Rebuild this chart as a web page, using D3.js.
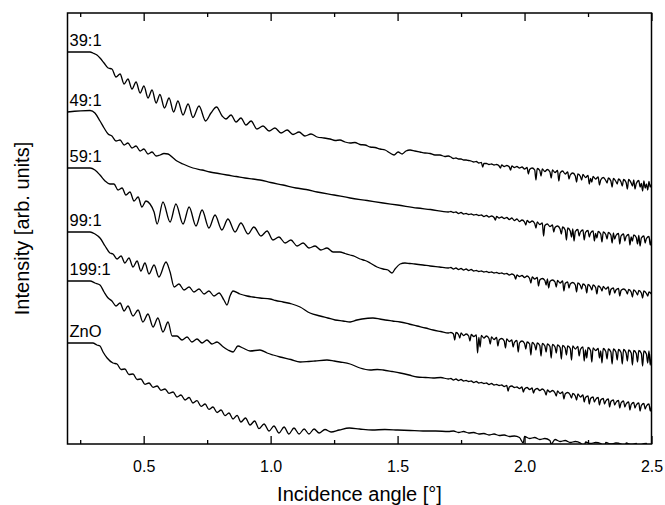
<!DOCTYPE html>
<html>
<head>
<meta charset="utf-8">
<script src="https://d3js.org/d3.v7.min.js"></script>
<style>
  body { margin: 0; background: #fff; }
  text { font-family: "Liberation Sans", Arial, sans-serif; fill: #000; }
</style>
</head>
<body>
<div id="chart"></div>
<script>
(function(){

  var width = 665, height = 505;
  var margin = {left: 67.5, right: 13.5, top: 13, bottom: 61};

  // sample names, top to bottom
  var labels = ["39:1", "49:1", "59:1", "99:1", "199:1", "ZnO"];

  var majorTicks = [0.5, 1.0, 1.5, 2.0, 2.5];
  var minorTicks = [0.25, 0.75, 1.25, 1.75, 2.25];

  // [angle (deg), log intensity + offset (arb.)]
  var head39 = [[0.20,392],[0.289,392],[0.300,391],[0.316,389],[0.328,386],[0.344,381],[0.360,376],
    [0.375,375],[0.391,367],[0.407,370],[0.423,360],[0.438,365],[0.454,355],[0.470,362],[0.486,351],
    [0.501,358],[0.517,346],[0.533,354],[0.549,341],[0.564,349.5],[0.582,336],[0.600,346],[0.618,332],
    [0.635,343],[0.655,329],[0.675,340],[0.694,326.5],[0.718,338],[0.744,323],[0.765,331],[0.787,337],
    [0.809,328],[0.824,325],[0.844,329],[0.864,322],[0.883,326],[0.903,319],[0.923,323],[0.946,315],
    [0.970,318],[0.994,313],[1.017,316],[1.041,311],[1.065,314],[1.088,309.5],[1.112,312],[1.135,308],
    [1.159,310],[1.183,307],[1.210,306],[1.234,305],[1.254,303.5],[1.273,304],[1.293,302],[1.313,301],
    [1.332,301.5],[1.352,299.5],[1.372,299],[1.392,297],[1.411,296.5],[1.431,295],[1.451,294],[1.470,291],
    [1.486,289],[1.502,292],[1.518,290],[1.533,293],[1.549,294],[1.568,293],[1.588,292],[1.608,291],
    [1.628,290.5],[1.647,289],[1.667,289],[1.686,287.5],[1.700,288]];
  var tail39 = [[1.71,287],[1.72,285.5],[1.73,286],[1.74,285],[1.75,285],[1.76,284],[1.77,284],
    [1.78,283.5],[1.79,283],[1.80,282],[1.81,282.5],[1.82,281],[1.83,281.5],[1.84,280.5],[1.85,280.5],
    [1.86,279.5],[1.87,280],[1.88,279],[1.89,279.5],[1.90,278],[1.91,279],[1.92,277.5],[1.93,278.5],
    [1.94,277],[1.95,278],[1.96,276.5],[1.97,277.5],[1.98,276],[1.99,277],[2.00,275],[2.01,276.5],
    [2.02,274.5],[2.03,276],[2.04,274],[2.05,275.5],[2.06,273.5],[2.07,275],[2.08,272.5],[2.09,274.5],
    [2.10,272],[2.11,274],[2.12,271.5],[2.13,273.5],[2.14,271],[2.15,273],[2.16,270],[2.17,272],
    [2.18,269],[2.19,271],[2.20,268],[2.21,270],[2.22,267.5],[2.23,269.5],[2.24,266.5],[2.25,268.5],
    [2.26,265.5],[2.27,267.5],[2.28,265],[2.29,267],[2.30,264],[2.31,266.5],[2.32,263.5],[2.33,266],
    [2.34,263],[2.35,265.5],[2.36,262.5],[2.37,265],[2.38,262],[2.39,264.5],[2.40,261.5],[2.41,264.5],
    [2.42,261],[2.43,264],[2.44,260.5],[2.45,263.5],[2.46,260.5],[2.47,263],[2.48,260],[2.49,262.5],[2.50,260]];
  var spikes39 = [[1.835,277],[1.905,276],[1.945,274],[2.015,270],[2.045,264],[2.065,268],[2.105,266],
    [2.135,263],[2.175,265],[2.205,262],[2.225,264],[2.255,260],[2.265,262],[2.295,259],[2.325,261],
    [2.345,257],[2.365,260],[2.385,258],[2.405,255],[2.425,258],[2.435,255],[2.455,257],[2.465,253],
    [2.475,256],[2.485,254],[2.495,257]];

  var head49 = [[0.20,332],[0.289,333.5],[0.308,331],[0.328,323],[0.344,316],[0.360,310],
    [0.375,308],[0.391,303],[0.407,304],[0.423,299],[0.438,301],[0.454,296],[0.470,298],[0.486,293],
    [0.501,295],[0.517,290],[0.533,292],[0.549,288],[0.564,289],[0.580,290.5],[0.596,290],[0.612,287],
    [0.631,283],[0.655,280],[0.694,276],[0.730,274],[0.761,272],[0.795,270.5],[0.828,269],[0.865,267.5],
    [0.899,266],[0.930,265],[0.958,264],[1.000,261.5],[1.049,259],[1.100,256],[1.140,254.5],[1.183,252],
    [1.250,249],[1.313,246],[1.380,243.5],[1.443,241],[1.500,239],[1.577,236],[1.630,234.5],[1.700,232]];
  var tail49 = [[1.71,232.5],[1.72,231.5],[1.73,232],[1.74,230.5],[1.75,231.5],[1.76,230],[1.77,230.5],
    [1.78,229.5],[1.79,230],[1.80,229],[1.81,229.5],[1.82,228.5],[1.83,229],[1.84,227.5],[1.85,228.5],
    [1.86,227],[1.87,228],[1.88,226.5],[1.89,227.5],[1.90,226],[1.91,227],[1.92,225.5],[1.93,226.5],
    [1.94,224.5],[1.95,226],[1.96,223.5],[1.97,225],[1.98,222.5],[1.99,224],[2.00,222],[2.01,223.5],
    [2.02,221.5],[2.03,223],[2.04,220.5],[2.05,222],[2.06,219.5],[2.07,221],[2.08,218.5],[2.09,220],
    [2.10,217.5],[2.11,219],[2.12,216.5],[2.13,218],[2.14,215],[2.15,217],[2.16,214],[2.17,216],
    [2.18,213],[2.19,215],[2.20,212.5],[2.21,214.5],[2.22,212],[2.23,214],[2.24,211.5],[2.25,213.5],
    [2.26,211],[2.27,213],[2.28,210.5],[2.29,212.5],[2.30,210],[2.31,212],[2.32,209.5],[2.33,211.5],
    [2.34,209],[2.35,211],[2.36,208.5],[2.37,210.5],[2.38,208],[2.39,210],[2.40,207.5],[2.41,209.5],
    [2.42,207],[2.43,209],[2.44,206.5],[2.45,208.5],[2.46,206],[2.47,208],[2.48,205.5],[2.49,207.5],[2.50,205.5]];
  var spikes49 = [[1.885,224],[2.005,219],[2.045,216],[2.075,208],[2.115,212],[2.145,210],[2.165,204],
    [2.185,207],[2.195,203],[2.215,208],[2.235,204],[2.255,207],[2.275,203],[2.285,206],[2.305,202],
    [2.325,205],[2.345,201],[2.355,205],[2.375,200],[2.395,203],[2.415,199],[2.425,203],[2.445,200],
    [2.455,198],[2.475,201],[2.495,199]];

  var head59 = [[0.20,276],[0.289,276],[0.308,274],[0.328,269],[0.348,263],[0.367,260],
    [0.383,260],[0.399,254],[0.415,256],[0.430,249],[0.446,252],[0.462,243],[0.478,247],[0.493,237],
    [0.509,243],[0.525,240],[0.541,232],[0.553,220],[0.576,242],[0.604,222],[0.627,240],[0.655,220],
    [0.679,237],[0.706,218],[0.730,234],[0.757,216],[0.781,229],[0.808,214],[0.832,225],[0.860,212],
    [0.883,221],[0.911,210],[0.934,217],[0.962,208],[0.986,213],[1.009,204],[1.033,207],[1.057,201],
    [1.080,204],[1.104,198],[1.128,201],[1.151,196],[1.175,198],[1.198,194],[1.222,196],[1.246,192],
    [1.273,192],[1.293,190.5],[1.313,189],[1.332,187.5],[1.352,185],[1.372,183.5],[1.392,181],[1.419,177],
    [1.443,175],[1.462,174],[1.478,171],[1.490,175],[1.510,180],[1.529,181],[1.548,180.5],[1.568,180],
    [1.600,179],[1.628,178],[1.665,177],[1.700,176]];
  var tail59 = [[1.71,176.5],[1.72,175],[1.73,176],[1.74,174.5],[1.75,175.5],[1.76,174],[1.77,175],
    [1.78,173.5],[1.79,174.5],[1.80,173],[1.81,173.5],[1.82,172.5],[1.83,173],[1.84,172],[1.85,172.5],
    [1.86,171.5],[1.87,172],[1.88,171],[1.89,171.5],[1.90,170.5],[1.91,171],[1.92,170],[1.93,170.5],
    [1.94,169],[1.95,170],[1.96,168.5],[1.97,169],[1.98,167.5],[1.99,168.5],[2.00,166.5],[2.01,168],
    [2.02,165.5],[2.03,167],[2.04,165],[2.05,166.5],[2.06,164],[2.07,165.5],[2.08,163.5],[2.09,165],
    [2.10,162.5],[2.11,164],[2.12,162],[2.13,163.5],[2.14,161],[2.15,163],[2.16,160.5],[2.17,162],
    [2.18,160],[2.19,161.5],[2.20,159],[2.21,161],[2.22,158.5],[2.23,160],[2.24,158],[2.25,159.5],
    [2.26,157],[2.27,159],[2.28,156.5],[2.29,158],[2.30,156],[2.31,157.5],[2.32,155],[2.33,157],
    [2.34,154.5],[2.35,156],[2.36,154],[2.37,155.5],[2.38,153.5],[2.39,155],[2.40,153],[2.41,154.5],
    [2.42,152],[2.43,154],[2.44,151.5],[2.45,153.5],[2.46,151],[2.47,153],[2.48,150.5],[2.49,152],[2.50,150]];
  var spikes59 = [[1.965,165],[2.025,161],[2.055,158],[2.085,159],[2.095,156],[2.125,157],[2.155,153],
    [2.175,156],[2.205,152],[2.225,155],[2.245,151],[2.265,154],[2.285,150],[2.305,153],[2.335,149],
    [2.355,151],[2.375,148],[2.405,150],[2.425,147],[2.445,149],[2.465,146],[2.485,148]];

  var head99 = [[0.20,212],[0.289,212],[0.308,210],[0.328,206],[0.348,198],[0.367,191],
    [0.379,190],[0.395,185],[0.411,188],[0.426,181],[0.442,186],[0.458,177],[0.474,183],[0.489,173],
    [0.505,181],[0.521,170],[0.541,179],[0.560,167],[0.588,182],[0.604,172],[0.620,157],[0.639,160],
    [0.659,154],[0.679,157],[0.698,152],[0.718,155],[0.738,150],[0.757,153],[0.777,148],[0.797,151],
    [0.816,144],[0.828,139],[0.840,148],[0.852,153],[0.879,150],[0.907,148],[0.930,147],[0.958,146],
    [0.998,145],[1.020,143.5],[1.049,142],[1.084,140],[1.116,137],[1.155,131],[1.195,128],[1.225,126],
    [1.254,124],[1.285,123],[1.313,122],[1.340,124],[1.360,125],[1.403,126],[1.430,125],[1.451,124],
    [1.480,123],[1.510,122],[1.545,120],[1.577,118],[1.610,116],[1.640,114],[1.670,112.5],[1.700,111]];
  var tail99 = [[1.71,111.5],[1.72,110],[1.73,111.5],[1.74,109.5],[1.75,111],[1.76,108.5],[1.77,110],
    [1.78,108],[1.79,109.5],[1.80,107.5],[1.81,109],[1.82,106.5],[1.83,108.5],[1.84,106],[1.85,108],
    [1.86,105.5],[1.87,107],[1.88,104.5],[1.89,106.5],[1.90,104],[1.91,105.5],[1.92,103],[1.93,105],
    [1.94,102.5],[1.95,104],[1.96,101.5],[1.97,103.5],[1.98,101],[1.99,103],[2.00,100.5],[2.01,102],
    [2.02,100],[2.03,101.5],[2.04,99],[2.05,101],[2.06,98.5],[2.07,100.5],[2.08,98],[2.09,100],
    [2.10,97.5],[2.11,99.5],[2.12,97],[2.13,99],[2.14,96.5],[2.15,98.5],[2.16,96],[2.17,98],
    [2.18,95.5],[2.19,98],[2.20,95],[2.21,97.5],[2.22,94.5],[2.23,97],[2.24,94],[2.25,96.5],
    [2.26,93.5],[2.27,96],[2.28,93.5],[2.29,95.5],[2.30,93],[2.31,95.5],[2.32,92.5],[2.33,95],
    [2.34,92],[2.35,95],[2.36,92],[2.37,94.5],[2.38,91.5],[2.39,94.5],[2.40,91],[2.41,94],
    [2.42,91],[2.43,93.5],[2.44,90.5],[2.45,93.5],[2.46,90.5],[2.47,93],[2.48,90],[2.49,93],[2.50,90]];
  var spikes99 = [[1.725,104],[1.745,106],[1.785,103],[1.815,91],[1.825,97],[1.865,100],[1.895,98],
    [1.925,96],[1.955,97],[1.975,92],[2.005,95],[2.025,89],[2.045,94],[2.065,88],[2.085,92],[2.105,86],
    [2.125,91],[2.145,85],[2.165,89],[2.185,84],[2.215,88],[2.235,83],[2.245,86],[2.265,82],[2.295,86],
    [2.305,81],[2.325,85],[2.345,80],[2.365,84],[2.385,80],[2.405,83],[2.425,79],[2.445,82],[2.465,78],
    [2.485,81],[2.495,79]];

  var head199 = [[0.20,163],[0.289,163],[0.308,161],[0.328,159],[0.344,152],[0.360,146],
    [0.375,143],[0.391,138],[0.407,141],[0.423,133],[0.438,138],[0.458,128],[0.478,134],[0.497,122],
    [0.517,130],[0.537,117],[0.556,126],[0.576,112],[0.596,122],[0.612,108],[0.631,108],[0.651,104],
    [0.671,107],[0.690,102],[0.710,105],[0.730,101],[0.749,104],[0.769,100],[0.789,102],[0.809,98],
    [0.832,94],[0.852,92],[0.871,98],[0.891,96],[0.919,93],[0.958,94],[0.986,91],[1.010,89],[1.037,87],
    [1.080,84.5],[1.116,82],[1.150,82.5],[1.175,83],[1.222,84],[1.250,83],[1.273,82],[1.313,80],
    [1.352,76],[1.392,74],[1.420,74.5],[1.443,74],[1.478,72.5],[1.510,71],[1.545,69],[1.577,67],
    [1.610,66.5],[1.640,66],[1.670,66.5],[1.700,65]];
  var tail199 = [[1.71,65.5],[1.72,64],[1.73,65],[1.74,63.5],[1.75,64.5],[1.76,63],[1.77,63.5],
    [1.78,62.5],[1.79,63],[1.80,61.5],[1.81,62.5],[1.82,61],[1.83,61.5],[1.84,60.5],[1.85,61],
    [1.86,59.5],[1.87,60.5],[1.88,59],[1.89,59.5],[1.90,58.5],[1.91,59],[1.92,57.5],[1.93,58.5],
    [1.94,57],[1.95,58],[1.96,56.5],[1.97,57],[1.98,55.5],[1.99,57],[2.00,55],[2.01,56.5],
    [2.02,54.5],[2.03,56],[2.04,54],[2.05,55.5],[2.06,53.5],[2.07,55],[2.08,52.5],[2.09,54],
    [2.10,52],[2.11,53.5],[2.12,51],[2.13,53],[2.14,50.5],[2.15,52],[2.16,50],[2.17,51.5],
    [2.18,49],[2.19,50.5],[2.20,48],[2.21,50],[2.22,47],[2.23,49],[2.24,46.5],[2.25,48],
    [2.26,45.5],[2.27,47],[2.28,44.5],[2.29,46.5],[2.30,44],[2.31,45.5],[2.32,43],[2.33,45],
    [2.34,42.5],[2.35,44],[2.36,41.5],[2.37,43.5],[2.38,41],[2.39,43],[2.40,40],[2.41,42],
    [2.42,39.5],[2.43,41.5],[2.44,39],[2.45,41],[2.46,38.5],[2.47,40.5],[2.48,38],[2.49,40],[2.50,38]];
  var spikes199 = [[1.935,53],[1.995,52],[2.035,51],[2.085,49],[2.125,48],[2.155,45],[2.185,46],
    [2.205,44],[2.235,42],[2.255,40],[2.275,42],[2.295,39],[2.315,40],[2.335,37],[2.355,39],[2.375,36],
    [2.395,37],[2.415,34],[2.435,36],[2.455,33],[2.475,35],[2.495,33]];

  var headZnO = [[0.20,101],[0.300,101],[0.316,99],[0.328,98],[0.340,92],[0.356,86],[0.379,81],
    [0.395,80],[0.411,74.5],[0.426,75],[0.442,69.5],[0.458,70],[0.474,64.5],[0.489,65],[0.505,59.7],
    [0.521,61],[0.537,56.7],[0.553,58],[0.568,53.7],[0.584,55],[0.600,50.6],[0.616,52],[0.631,47],
    [0.647,49],[0.663,44],[0.679,46.5],[0.694,41],[0.710,43.3],[0.726,37.7],[0.742,40],[0.757,34.6],
    [0.773,37],[0.789,31.5],[0.805,34],[0.820,28.3],[0.836,31],[0.852,25],[0.868,28.6],[0.883,22],
    [0.901,26],[0.919,19],[0.937,23],[0.954,15.4],[0.974,20],[0.994,13],[1.013,18],[1.033,11],
    [1.053,17],[1.072,10],[1.092,16],[1.112,10],[1.132,15],[1.151,10],[1.171,15],[1.191,11],
    [1.214,14.5],[1.238,12],[1.270,14],[1.310,16],[1.350,15],[1.400,14],[1.450,14.5],[1.500,14],
    [1.550,13.5],[1.600,13],[1.650,13],[1.700,12.5]];
  var tailZnO = [[1.72,13],[1.74,11.5],[1.76,12.5],[1.78,11],[1.80,11.5],[1.82,10],[1.84,10.5],
    [1.86,9],[1.88,10],[1.90,8.5],[1.92,9],[1.94,7.5],[1.96,8],[1.98,6.5],[2.00,7.5],[2.02,5.5],
    [2.04,6.5],[2.06,4.5],[2.08,5.5],[2.10,3.5],[2.12,4.5],[2.14,2.5],[2.16,3.5],[2.18,1.5],[2.20,2.5],
    [2.22,1],[2.24,2],[2.26,0.5],[2.28,1.5],[2.30,0.5],[2.32,1.5],[2.34,0],[2.36,1],[2.38,0],
    [2.40,1],[2.42,-0.5],[2.44,0.5],[2.46,-0.5],[2.48,0.5],[2.50,-0.5]];
  var spikesZnO = [[1.995,1],[2.105,0],[2.235,-3],[2.315,-3],[2.395,-4],[2.445,-3],[2.485,-5]];

  var series = [
    merge(head39, tail39, spikes39),
    merge(head49, tail49, spikes49),
    merge(head59, tail59, spikes59),
    merge(head99, tail99, spikes99),
    merge(head199, tail199, spikes199),
    merge(headZnO, tailZnO, spikesZnO)
  ];

  function merge(head, tail, spikes){
    return head.concat(tail, spikes).sort(function(a, b){ return a[0] - b[0]; });
  }

  var x = d3.scaleLinear()
      .domain([0.2, 2.5])
      .range([margin.left, width - margin.right]);

  var y = d3.scaleLinear()
      .domain([0, 431])
      .range([height - margin.bottom, margin.top]);

  var svg = d3.select("#chart").append("svg")
      .attr("width", width)
      .attr("height", height);

  svg.append("rect")
      .attr("width", width)
      .attr("height", height)
      .attr("fill", "#fff");

  svg.append("clipPath")
      .attr("id", "plot-clip")
    .append("rect")
      .attr("x", x(0.2))
      .attr("y", y(431))
      .attr("width", x(2.5) - x(0.2))
      .attr("height", y(0) - y(431));

  drawCurves();
  drawAxes();
  drawLabels();

  function drawCurves(){

    var line = d3.line()
        .curve(d3.curveMonotoneX)
        .x(function(d){ return x(d[0]); })
        .y(function(d){ return y(d[1]); });

    svg.append("g")
        .attr("clip-path", "url(#plot-clip)")
      .selectAll("path")
        .data(series)
      .enter().append("path")
        .attr("d", line)
        .attr("fill", "none")
        .attr("stroke", "#000")
        .attr("stroke-width", 1.3)
        .attr("stroke-linejoin", "round");

  }

  function drawAxes(){

    var bottom = svg.append("g")
        .attr("transform", "translate(0," + y(0) + ")")
        .call(d3.axisBottom(x)
          .tickValues(majorTicks)
          .tickSizeInner(-8)
          .tickSizeOuter(0)
          .tickPadding(17)
          .tickFormat(d3.format(".1f")));

    bottom.selectAll("text")
        .attr("font-family", "'Liberation Sans', Arial, sans-serif")
        .attr("font-size", 16);

    svg.append("g")
        .attr("transform", "translate(0," + y(0) + ")")
        .call(d3.axisBottom(x).tickValues(minorTicks).tickSizeInner(-4).tickSizeOuter(0).tickFormat(""));

    svg.append("g")
        .attr("transform", "translate(0," + y(431) + ")")
        .call(d3.axisTop(x).tickValues(majorTicks).tickSizeInner(-8).tickSizeOuter(0).tickFormat(""));

    svg.append("g")
        .attr("transform", "translate(0," + y(431) + ")")
        .call(d3.axisTop(x).tickValues(minorTicks).tickSizeInner(-4).tickSizeOuter(0).tickFormat(""));

    svg.selectAll(".domain").remove();
    svg.selectAll(".tick line").attr("stroke", "#000").attr("stroke-width", 1.3);

    // frame
    svg.append("rect")
        .attr("x", x(0.2))
        .attr("y", y(431))
        .attr("width", x(2.5) - x(0.2))
        .attr("height", y(0) - y(431))
        .attr("fill", "none")
        .attr("stroke", "#000")
        .attr("stroke-width", 1.5);

    svg.append("text")
        .attr("x", (x(0.2) + x(2.5)) / 2)
        .attr("y", 501)
        .attr("text-anchor", "middle")
        .attr("font-size", 20)
        .text("Incidence angle [\u00b0]");

    svg.append("text")
        .attr("transform", "translate(29," + (y(0) + y(431)) / 2 + ") rotate(-90)")
        .attr("text-anchor", "middle")
        .attr("font-size", 20)
        .text("Intensity [arb. units]");

  }

  function drawLabels(){

    svg.selectAll(".curve-label")
        .data(labels)
      .enter().append("text")
        .attr("class", "curve-label")
        .attr("x", x(0.2) + 2)
        .attr("y", function(d, i){ return y(series[i][0][1]) - 6; })
        .attr("font-size", 16.5)
        .text(function(d){ return d; });

  }

})();
</script>
</body>
</html>
